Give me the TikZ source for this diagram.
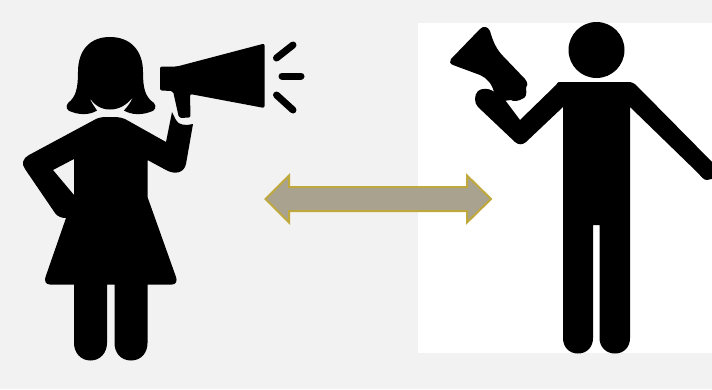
\documentclass[tikz,border=0pt]{standalone}
\usepackage{tikz}

\definecolor{slidebg}{HTML}{F2F2F2}
\definecolor{arrowfill}{HTML}{A9A28E}
\definecolor{arrowline}{HTML}{BFA93C}

\begin{document}
\begin{tikzpicture}[
    x=1pt, y=-1pt,
    figure/.style={fill=black},
    soundline/.style={draw=black, line width=7pt, line cap=round},
    swaparrow/.style={draw=arrowline, fill=arrowfill, line width=2pt, line join=miter}
]

% Background and white panel
\fill[slidebg] (0,0) rectangle (712,389);
\useasboundingbox (0,0) rectangle (712,389);
\fill[white] (418,22.5) rectangle (712,353);

% Woman: hair
\fill[figure] (78,72) .. controls (78,50) and (90,37) .. (110,37)
    .. controls (130,37) and (143,50) .. (143,72)
    .. controls (143,88) and (145,97) .. (154,103)
    .. controls (157,107) and (155,111) .. (150,112)
    .. controls (142,115) and (131,115) .. (124,110.5)
    .. controls (128,106) and (131,102) .. (133,97)
    .. controls (127,105) and (119,109.5) .. (110,109.5)
    .. controls (101,109.5) and (94,105) .. (89,97)
    .. controls (91,102) and (94,106) .. (97,110.5)
    .. controls (90,115) and (80,115) .. (72,112)
    .. controls (67,111) and (65,107) .. (68,103)
    .. controls (76,97) and (78,88) .. (78,72) -- cycle;

% Woman: megaphone
\fill[figure, rounded corners=2pt] (160,66.5) -- (177,66.5) -- (264.5,43.5) -- (264.5,108)
    -- (190,94) -- (190.5,117.5) -- (179,118) -- (173,91) -- (160,90.5) -- cycle;

% Woman: sound
\draw[soundline] (276.5,58) -- (293,45);
\draw[soundline] (282,76) -- (301,76);
\draw[soundline] (276.5,95) -- (293,110);

% Woman: body, arms and skirt
\fill[figure, even odd rule] (110,117)
    .. controls (104,117) and (100,117) .. (96,119)
    -- (29,155)
    .. controls (23,158) and (21,164) .. (25,169)
    -- (55,213)
    .. controls (58,217) and (62,218) .. (66,218)
    -- (45.5,277)
    .. controls (44,281) and (46,284.5) .. (50,284.5)
    -- (74,284.5) -- (74,343)
    .. controls (74,353) and (81,360.5) .. (90.5,360.5)
    .. controls (100,360.5) and (107,353) .. (107,343)
    -- (107,284.5) -- (114.5,284.5) -- (114.5,343)
    .. controls (114.5,353) and (121,360.5) .. (131,360.5)
    .. controls (141,360.5) and (147.5,353) .. (147.5,343)
    -- (147.5,284.5) -- (172,284.5)
    .. controls (176,284.5) and (177.5,281) .. (176,277)
    -- (147.5,197) -- (147.5,160)
    -- (166,170)
    .. controls (175,175) and (184,173) .. (186,164)
    -- (193,124)
    .. controls (186,126) and (178,125) .. (176,120)
    -- (172,112)
    -- (166,142)
    -- (125,119)
    .. controls (120,117) and (116,117) .. (110,117) -- cycle
    (74,159) -- (53,170) -- (74,195) -- cycle;

% Man: head
\fill[figure] (596.5,50) circle (28);

% Man: body, arms and legs
\fill[figure] (559,82)
    -- (628,82)
    .. controls (632,82) and (634,83) .. (637,86)
    -- (716,166) -- (716,178) -- (707,180)
    .. controls (703,180) and (701,176) .. (698,173)
    -- (630,107)
    -- (630,338)
    .. controls (630,347) and (624,353.5) .. (615,353.5)
    .. controls (606,353.5) and (599.5,347) .. (599.5,338)
    -- (599.5,225) -- (593,225) -- (593,338)
    .. controls (593,347) and (587,353.5) .. (578,353.5)
    .. controls (569,353.5) and (563,347) .. (563,338)
    -- (563,107)
    -- (526,142)
    .. controls (523,145) and (518,145) .. (515,142)
    -- (478,107)
    .. controls (474,103) and (474,95) .. (478,91)
    .. controls (482,88) and (488,88) .. (493,91)
    -- (505,100)
    -- (520,120)
    -- (556,85)
    .. controls (557,83) and (558,82) .. (559,82) -- cycle;

% Man: megaphone
\fill[figure] (451,59)
    -- (480,29)
    .. controls (484,25) and (488,27) .. (490,31)
    .. controls (493,42) and (497,50) .. (503,56)
    -- (525,79)
    .. controls (528,83) and (528,86) .. (526,88)
    .. controls (527,94) and (526,98) .. (522,99)
    .. controls (518,101) and (514,102) .. (511,100)
    -- (503,101) -- (494,92)
    .. controls (492,84) and (487,78) .. (480,75)
    -- (453,65)
    .. controls (450,64) and (449,61) .. (451,59) -- cycle;

% Double arrow
\draw[swaparrow] (265.5,199) -- (289,175.5) -- (289,187) -- (467,187) -- (467,175.5)
    -- (491,199) -- (467,222.5) -- (467,211) -- (289,211) -- (289,222.5) -- cycle;

\end{tikzpicture}
\end{document}
